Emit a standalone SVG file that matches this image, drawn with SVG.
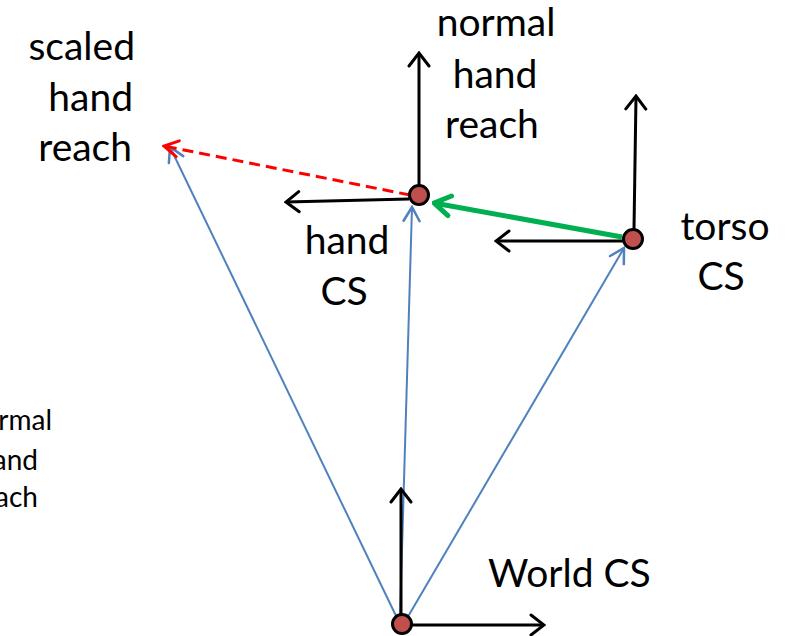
<svg xmlns="http://www.w3.org/2000/svg" width="792" height="636" viewBox="0 0 792 636">
<style>
  text { font-family: Lato, "Open Sans", "Liberation Sans", sans-serif; fill: #000; }
  .big { font-size: 39px; }
  .small { font-size: 28px; }
  .ax { stroke: #000; stroke-width: 3; fill: none; marker-end: url(#ba); }
  .bl { stroke: #4F81BD; stroke-width: 2; fill: none; marker-end: url(#bla); }
  .node { fill: #C0504D; stroke: #000; stroke-width: 3; }
</style>
<defs>
  <marker id="ba" markerUnits="userSpaceOnUse" viewBox="-16 -12 18 24" markerWidth="18" markerHeight="24" refX="0" refY="0" orient="auto">
    <path d="M -13 -10 L 0 0 L -13 10" fill="none" stroke="#000" stroke-width="3" stroke-linecap="round" stroke-linejoin="miter"/>
  </marker>
  <marker id="bla" markerUnits="userSpaceOnUse" viewBox="-16 -12 18 24" markerWidth="18" markerHeight="24" refX="0" refY="0" orient="auto">
    <path d="M -14 -8 L 0 0 L -14 8" fill="none" stroke="#4F81BD" stroke-width="2.5" stroke-linecap="round"/>
  </marker>
  <marker id="ra" markerUnits="userSpaceOnUse" viewBox="-16 -12 18 24" markerWidth="18" markerHeight="24" refX="0" refY="0" orient="auto">
    <path d="M -14 -8 L 0 0 L -14 8" fill="none" stroke="#FF0000" stroke-width="3" stroke-linecap="round"/>
  </marker>
  <marker id="ga" markerUnits="userSpaceOnUse" viewBox="-20 -14 22 28" markerWidth="22" markerHeight="28" refX="0" refY="0" orient="auto">
    <path d="M -16 -10 L 0 0 L -16 10" fill="none" stroke="#00B050" stroke-width="5" stroke-linecap="round" stroke-linejoin="round"/>
  </marker>
</defs>

<g id="connectors">
  <line class="bl" x1="398" y1="620" x2="170" y2="147"/>
  <line class="bl" x1="400" y1="618" x2="412" y2="207"/>
  <line class="bl" x1="406" y1="620" x2="624" y2="248"/>
  <line x1="410" y1="195" x2="164" y2="146" stroke="#FF0000" stroke-width="3" stroke-dasharray="11 6" marker-end="url(#ra)"/>
  <line x1="622" y1="237" x2="434" y2="203" stroke="#00B050" stroke-width="5" marker-end="url(#ga)"/>
</g>

<g id="world-cs">
  <line class="ax" x1="401" y1="620" x2="401" y2="489"/>
  <line class="ax" x1="410" y1="625" x2="544" y2="625"/>
  <circle class="node" cx="402" cy="624" r="9.5"/>
  <text class="big" x="488" y="587">World CS</text>
</g>

<g id="hand-cs">
  <line class="ax" x1="419" y1="186" x2="419" y2="53"/>
  <line class="ax" x1="409" y1="199" x2="286" y2="202"/>
  <circle class="node" cx="419" cy="195" r="9.5"/>
  <text class="big" text-anchor="middle" x="347" y="254">hand</text>
  <text class="big" text-anchor="middle" x="344" y="305">CS</text>
</g>

<g id="torso-cs">
  <line class="ax" x1="634" y1="229" x2="636" y2="96"/>
  <line class="ax" x1="623" y1="241" x2="496" y2="241"/>
  <circle class="node" cx="633" cy="239" r="9.5"/>
  <text class="big" text-anchor="middle" x="725" y="240">torso</text>
  <text class="big" text-anchor="middle" x="721" y="290">CS</text>
</g>

<g id="normal-hand-reach">
  <text class="big" text-anchor="middle" x="496" y="36">normal</text>
  <text class="big" text-anchor="middle" x="495" y="88">hand</text>
  <text class="big" text-anchor="middle" x="492" y="138">reach</text>
</g>

<g id="scaled-hand-reach">
  <text class="big" text-anchor="end" x="135" y="60">scaled</text>
  <text class="big" text-anchor="end" x="133" y="111">hand</text>
  <text class="big" text-anchor="end" x="132" y="161">reach</text>
</g>

<g id="cut-label">
  <text class="small" text-anchor="end" x="52" y="430">rmal</text>
  <text class="small" text-anchor="end" x="38" y="470">and</text>
  <text class="small" text-anchor="end" x="38" y="507">ach</text>
</g>
</svg>
